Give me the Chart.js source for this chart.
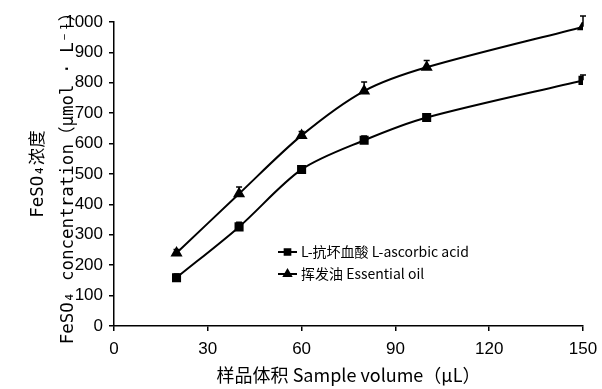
<!DOCTYPE html>
<html>
<head>
<meta charset="utf-8">
<script src="https://cdn.jsdelivr.net/npm/chart.js@4"></script>
<style>
  html, body { margin: 0; padding: 0; background: #fff; }
  #wrap { width: 602px; height: 389px; }
</style>
</head>
<body>
<div id="wrap"><canvas id="fesoChart" width="602" height="389"></canvas></div>
<script>
// sample volume (µL)
const volumes = [20, 40, 60, 80, 100, 150];

// L-ascorbic acid
const ascorbicVals = [159, 326, 515, 611, 686, 808];
const ascorbicErr = [12, 15, 10, 14, 10, 18];

// essential oil
const oilVals = [240, 435, 627, 773, 851, 984];
const oilErr = [12, 22, 13, 30, 22, 36];

const seriesNames = ['L-抗坏血酸 L-ascorbic acid', '挥发油 Essential oil'];

const cjkFont = "'Noto Sans CJK SC', 'DejaVu Sans', sans-serif";
const monoFont = "'DejaVu Sans Mono', 'Noto Sans CJK SC', monospace";
const numFont = "'Liberation Sans', Arial, sans-serif";

function toPoints(xs, ys) {
  return xs.map((x, i) => ({ x: x, y: ys[i] }));
}

// upward error bars with a cap
const errorBars = {
  id: 'errorBars',
  afterDatasetsDraw(chart) {
    const ctx = chart.ctx;
    const yScale = chart.scales.y;
    ctx.save();
    ctx.strokeStyle = '#000';
    ctx.lineWidth = 1.5;
    chart.data.datasets.forEach((ds, di) => {
      const meta = chart.getDatasetMeta(di);
      meta.data.forEach((pt, i) => {
        const top = yScale.getPixelForValue(ds.data[i].y + ds.errors[i]);
        ctx.beginPath();
        ctx.moveTo(pt.x, pt.y);
        ctx.lineTo(pt.x, top);
        ctx.moveTo(pt.x - 3, top);
        ctx.lineTo(pt.x + 3, top);
        ctx.stroke();
      });
    });
    ctx.restore();
  }
};

// legend inside the plot: short line with the marker, then the name
const innerLegend = {
  id: 'innerLegend',
  afterDraw(chart) {
    const ctx = chart.ctx;
    const area = chart.chartArea;
    const x0 = area.left + 164;
    let y = area.top + 230;
    ctx.save();
    chart.data.datasets.forEach((ds, di) => {
      ctx.strokeStyle = '#000';
      ctx.lineWidth = 2;
      ctx.beginPath();
      ctx.moveTo(x0, y);
      ctx.lineTo(x0 + 19, y);
      ctx.stroke();
      ctx.fillStyle = '#000';
      Chart.helpers.drawPoint(ctx, {
        pointStyle: ds.pointStyle, radius: 4, rotation: 0, borderWidth: 1
      }, x0 + 9.5, y);
      ctx.font = '14px ' + cjkFont;
      ctx.textBaseline = 'middle';
      ctx.textAlign = 'left';
      ctx.fillText(seriesNames[di], x0 + 23, y);
      y += 22;
    });
    ctx.restore();
  }
};

const ctx = document.getElementById('fesoChart').getContext('2d');
const chart = new Chart(ctx, {
  type: 'line',
  data: {
    datasets: [{
      label: seriesNames[0],
      data: toPoints(volumes, ascorbicVals),
      errors: ascorbicErr,
      pointStyle: 'rect',
      pointRadius: 5,
      borderColor: '#000',
      backgroundColor: '#000',
      borderWidth: 2,
      tension: 0.3
    }, {
      label: seriesNames[1],
      data: toPoints(volumes, oilVals),
      errors: oilErr,
      pointStyle: 'triangle',
      pointRadius: 5,
      borderColor: '#000',
      backgroundColor: '#000',
      borderWidth: 2,
      tension: 0.3
    }]
  },
  options: {
    responsive: false,
    animation: false,
    layout: { padding: { left: 0, right: 0, top: 22, bottom: 3 } },
    plugins: {
      legend: { display: false },
      tooltip: { enabled: false }
    },
    scales: {
      x: {
        type: 'linear',
        min: 0,
        max: 150,
        ticks: {
          stepSize: 30, color: '#000', font: { family: numFont, size: 17 }, padding: 8,
          callback: (v) => String(v)
        },
        grid: { drawOnChartArea: false, color: '#000', tickLength: 5, lineWidth: 1.5 },
        border: { color: '#000', width: 1.5 },
        title: {
          display: true,
          text: '样品体积 Sample volume（μL）',
          color: '#000',
          font: { family: cjkFont, size: 18 },
          padding: { top: 0, bottom: 0 }
        },
        afterFit(scale) {
          scale.height = 60;
          scale.paddingRight = 19;
        }
      },
      y: {
        min: 0,
        max: 1000,
        ticks: {
          stepSize: 100, color: '#000', font: { family: numFont, size: 17 }, padding: 6,
          callback: (v) => String(v)
        },
        grid: { drawOnChartArea: false, color: '#000', tickLength: 5, lineWidth: 1.5 },
        border: { color: '#000', width: 1.5 },
        title: {
          display: true,
          text: ['FeSO₄浓度', 'FeSO₄ concentration（μmol · L⁻¹）'],
          color: '#000',
          font: { family: monoFont, size: 17.5, lineHeight: 1.7 },
          padding: { top: 24, bottom: 0 }
        },
        afterFit(scale) { scale.width = 114; }
      }
    }
  },
  plugins: [errorBars, innerLegend]
});
</script>
</body>
</html>
